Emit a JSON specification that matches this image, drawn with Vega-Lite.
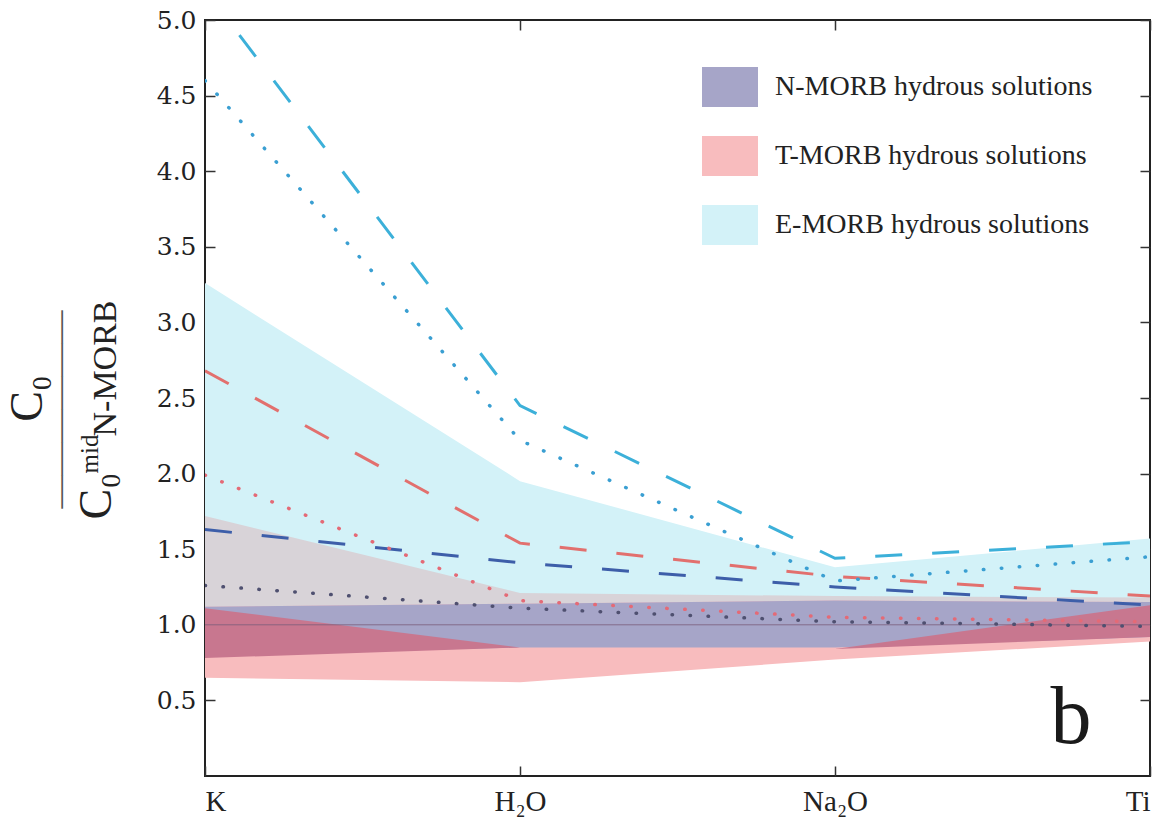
{
  "$schema": "https://vega.github.io/schema/vega-lite/v6.json",
  "autosize": {"type": "none"},
  "padding": {"left": 205, "top": 20, "right": 22, "bottom": 50},
  "width": 945,
  "height": 756,
  "background": "white",
  "config": {
    "view": {"stroke": "#222", "strokeWidth": 2},
    "axis": {"grid": false, "domain": false}
  },
  "datasets": {
    "bands": [
      {"band": "E-MORB hydrous solutions", "element": "K", "lo": 1.2, "hi": 3.26},
      {"band": "E-MORB hydrous solutions", "element": "H2O", "lo": 1.2, "hi": 1.95},
      {"band": "E-MORB hydrous solutions", "element": "Na2O", "lo": 1.15, "hi": 1.38},
      {"band": "E-MORB hydrous solutions", "element": "Ti", "lo": 1.15, "hi": 1.57},
      {"band": "overlap grey", "element": "K", "lo": 1.0, "hi": 1.72},
      {"band": "overlap grey", "element": "H2O", "lo": 1.0, "hi": 1.21},
      {"band": "overlap grey", "element": "Na2O", "lo": 1.0, "hi": 1.19},
      {"band": "overlap grey", "element": "Ti", "lo": 1.0, "hi": 1.18},
      {"band": "T-MORB hydrous solutions", "element": "K", "lo": 0.65, "hi": 1.12},
      {"band": "T-MORB hydrous solutions", "element": "H2O", "lo": 0.62, "hi": 1.14},
      {"band": "T-MORB hydrous solutions", "element": "Na2O", "lo": 0.77, "hi": 1.16},
      {"band": "T-MORB hydrous solutions", "element": "Ti", "lo": 0.89, "hi": 1.15},
      {"band": "N-MORB hydrous solutions", "element": "K", "lo": 0.8, "hi": 1.12},
      {"band": "N-MORB hydrous solutions", "element": "H2O", "lo": 0.85, "hi": 1.14},
      {"band": "N-MORB hydrous solutions", "element": "Na2O", "lo": 0.85, "hi": 1.16},
      {"band": "N-MORB hydrous solutions", "element": "Ti", "lo": 0.92, "hi": 1.15},
      {"band": "overlap crimson", "element": "K", "lo": 0.78, "hi": 1.11},
      {"band": "overlap crimson", "element": "H2O", "lo": 0.85, "hi": 0.85},
      {"band": "overlap crimson", "element": "Na2O", "lo": 0.84, "hi": 0.84},
      {"band": "overlap crimson", "element": "Ti", "lo": 0.92, "hi": 1.13}
    ],
    "lines": [
      {"series": "E-MORB dashed", "style": "dashed", "element": "K", "value": 5.2},
      {"series": "E-MORB dashed", "style": "dashed", "element": "H2O", "value": 2.45},
      {"series": "E-MORB dashed", "style": "dashed", "element": "Na2O", "value": 1.44},
      {"series": "E-MORB dashed", "style": "dashed", "element": "Ti", "value": 1.55},
      {"series": "E-MORB dotted", "style": "dotted", "element": "K", "value": 4.6},
      {"series": "E-MORB dotted", "style": "dotted", "element": "H2O", "value": 2.22},
      {"series": "E-MORB dotted", "style": "dotted", "element": "Na2O", "value": 1.29},
      {"series": "E-MORB dotted", "style": "dotted", "element": "Ti", "value": 1.45},
      {"series": "T-MORB dashed", "style": "dashed", "element": "K", "value": 2.68},
      {"series": "T-MORB dashed", "style": "dashed", "element": "H2O", "value": 1.54},
      {"series": "T-MORB dashed", "style": "dashed", "element": "Na2O", "value": 1.32},
      {"series": "T-MORB dashed", "style": "dashed", "element": "Ti", "value": 1.19},
      {"series": "T-MORB dotted", "style": "dotted", "element": "K", "value": 1.99},
      {"series": "T-MORB dotted", "style": "dotted", "element": "H2O", "value": 1.16},
      {"series": "T-MORB dotted", "style": "dotted", "element": "Na2O", "value": 1.05},
      {"series": "T-MORB dotted", "style": "dotted", "element": "Ti", "value": 1.02},
      {"series": "N-MORB dashed", "style": "dashed", "element": "K", "value": 1.63},
      {"series": "N-MORB dashed", "style": "dashed", "element": "H2O", "value": 1.41},
      {"series": "N-MORB dashed", "style": "dashed", "element": "Na2O", "value": 1.25},
      {"series": "N-MORB dashed", "style": "dashed", "element": "Ti", "value": 1.13},
      {"series": "N-MORB dotted", "style": "dotted", "element": "K", "value": 1.26},
      {"series": "N-MORB dotted", "style": "dotted", "element": "H2O", "value": 1.11},
      {"series": "N-MORB dotted", "style": "dotted", "element": "Na2O", "value": 1.02},
      {"series": "N-MORB dotted", "style": "dotted", "element": "Ti", "value": 0.99},
      {"series": "N-MORB mid", "style": "solid", "element": "K", "value": 1.0},
      {"series": "N-MORB mid", "style": "solid", "element": "H2O", "value": 1.0},
      {"series": "N-MORB mid", "style": "solid", "element": "Na2O", "value": 1.0},
      {"series": "N-MORB mid", "style": "solid", "element": "Ti", "value": 1.0}
    ],
    "panel": [
      {"element": "Ti", "value": 0.216, "text": "b"}
    ]
  },
  "resolve": {"axis": {"x": "independent", "y": "independent"}},
  "layer": [
    {
      "data": {"name": "bands"},
      "transform": [{"filter": "datum.band == 'E-MORB hydrous solutions'"}],
      "mark": {"type": "area", "opacity": 1},
      "encoding": {
        "x": {"field": "element", "type": "nominal", "sort": ["K", "H2O", "Na2O", "Ti"],
          "scale": {"type": "point", "padding": 0, "domain": ["K", "H2O", "Na2O", "Ti"]},
          "axis": {"orient": "bottom", "ticks": false, "domain": false, "grid": false, "title": null,
            "labelFont": "Liberation Serif", "labelFontSize": 29, "labelColor": "#222", "labelPadding": 11,
            "labelAngle": 0, "labelFlush": true,
            "labelExpr": "datum.value == 'H2O' ? 'H₂O' : datum.value == 'Na2O' ? 'Na₂O' : datum.value"}},
        "y": {"field": "lo", "type": "quantitative", "scale": {"domain": [0, 5], "nice": false, "zero": false},
          "axis": {"orient": "left", "values": [0.5, 1, 1.5, 2, 2.5, 3, 3.5, 4, 4.5, 5], "format": ".1f",
            "ticks": false, "domain": false, "grid": false, "title": null,
            "labelFont": "DejaVu Serif", "labelFontSize": 25, "labelColor": "#222", "labelPadding": 9}},
        "y2": {"field": "hi"},
        "fill": {"field": "band", "type": "nominal",
          "scale": {"domain": ["N-MORB hydrous solutions", "T-MORB hydrous solutions", "E-MORB hydrous solutions"],
            "range": ["#a6a5c8", "#f8bcbe", "#d3f2f8"]},
          "legend": {"title": null, "orient": "none", "legendX": 505, "legendY": 47,
            "symbolType": "M-1.4,-1H1.4V1H-1.4Z", "symbolSize": 1600, "symbolStrokeWidth": 0, "symbolOpacity": 1,
            "labelFont": "Liberation Serif", "labelFontSize": 28, "labelColor": "#222", "labelOffset": 25,
            "rowPadding": 29, "labelLimit": 400}}
      }
    },
    {
      "data": {"name": "bands"},
      "transform": [{"filter": "datum.band == 'overlap grey'"}],
      "mark": {"type": "area", "opacity": 1, "color": "#d8d3d8"},
      "encoding": {
        "x": {"field": "element", "type": "nominal", "sort": ["K", "H2O", "Na2O", "Ti"],
          "scale": {"type": "point", "padding": 0, "domain": ["K", "H2O", "Na2O", "Ti"]},
          "axis": {"orient": "bottom", "labels": false, "domain": false, "grid": false, "title": null,
            "ticks": true, "tickSize": -10, "tickColor": "#333", "tickWidth": 1.5}},
        "y": {"field": "lo", "type": "quantitative", "scale": {"domain": [0, 5], "nice": false, "zero": false},
          "axis": {"orient": "left", "values": [0.5, 1, 1.5, 2, 2.5, 3, 3.5, 4, 4.5, 5],
            "labels": false, "domain": false, "grid": false, "title": null,
            "ticks": true, "tickSize": -10, "tickColor": "#333", "tickWidth": 1.5}},
        "y2": {"field": "hi"}
      }
    },
    {
      "data": {"name": "bands"},
      "transform": [{"filter": "datum.band == 'T-MORB hydrous solutions'"}],
      "mark": {"type": "area", "opacity": 1},
      "encoding": {
        "x": {"field": "element", "type": "nominal", "sort": ["K", "H2O", "Na2O", "Ti"],
          "scale": {"type": "point", "padding": 0, "domain": ["K", "H2O", "Na2O", "Ti"]},
          "axis": {"orient": "top", "labels": false, "domain": false, "grid": false, "title": null,
            "ticks": true, "tickSize": -10, "tickColor": "#333", "tickWidth": 1.5}},
        "y": {"field": "lo", "type": "quantitative", "scale": {"domain": [0, 5], "nice": false, "zero": false},
          "axis": {"orient": "right", "values": [0.5, 1, 1.5, 2, 2.5, 3, 3.5, 4, 4.5, 5],
            "labels": false, "domain": false, "grid": false, "title": null,
            "ticks": true, "tickSize": -10, "tickColor": "#333", "tickWidth": 1.5}},
        "y2": {"field": "hi"},
        "fill": {"field": "band", "type": "nominal",
          "scale": {"domain": ["N-MORB hydrous solutions", "T-MORB hydrous solutions", "E-MORB hydrous solutions"],
            "range": ["#a6a5c8", "#f8bcbe", "#d3f2f8"]}}
      }
    },
    {
      "data": {"name": "bands"},
      "transform": [{"filter": "datum.band == 'N-MORB hydrous solutions'"}],
      "mark": {"type": "area", "opacity": 1},
      "encoding": {
        "x": {"field": "element", "type": "nominal", "sort": ["K", "H2O", "Na2O", "Ti"],
          "scale": {"type": "point", "padding": 0, "domain": ["K", "H2O", "Na2O", "Ti"]}, "axis": null},
        "y": {"field": "lo", "type": "quantitative", "scale": {"domain": [0, 5], "nice": false, "zero": false},
          "axis": {"orient": "left", "labels": false, "ticks": false, "domain": false, "grid": false,
            "title": "C₀", "titleFont": "Liberation Serif", "titleFontSize": 46, "titleFontWeight": "normal",
            "titleColor": "#222", "titleAngle": -90, "titleAlign": "center", "titleBaseline": "alphabetic",
            "titleX": -164, "titleY": 378}},
        "y2": {"field": "hi"},
        "fill": {"field": "band", "type": "nominal",
          "scale": {"domain": ["N-MORB hydrous solutions", "T-MORB hydrous solutions", "E-MORB hydrous solutions"],
            "range": ["#a6a5c8", "#f8bcbe", "#d3f2f8"]}}
      }
    },
    {
      "data": {"name": "bands"},
      "transform": [{"filter": "datum.band == 'overlap crimson'"}],
      "mark": {"type": "area", "opacity": 1, "color": "#c8778f"},
      "encoding": {
        "x": {"field": "element", "type": "nominal", "sort": ["K", "H2O", "Na2O", "Ti"],
          "scale": {"type": "point", "padding": 0, "domain": ["K", "H2O", "Na2O", "Ti"]}, "axis": null},
        "y": {"field": "lo", "type": "quantitative", "scale": {"domain": [0, 5], "nice": false, "zero": false},
          "axis": {"orient": "left", "labels": false, "ticks": false, "domain": false, "grid": false,
            "title": "——————", "titleFont": "Liberation Serif", "titleFontSize": 33, "titleFontWeight": "normal",
            "titleColor": "#555", "titleAngle": -90, "titleAlign": "center", "titleBaseline": "alphabetic",
            "titleX": -136, "titleY": 389}},
        "y2": {"field": "hi"}
      }
    },
    {
      "data": {"name": "lines"},
      "transform": [{"filter": "datum.style == 'solid'"}],
      "mark": {"type": "line", "stroke": "#7a5c7a", "strokeWidth": 1, "opacity": 0.8},
      "encoding": {
        "x": {"field": "element", "type": "nominal", "sort": ["K", "H2O", "Na2O", "Ti"],
          "scale": {"type": "point", "padding": 0, "domain": ["K", "H2O", "Na2O", "Ti"]}, "axis": null},
        "y": {"field": "value", "type": "quantitative", "scale": {"domain": [0, 5], "nice": false, "zero": false},
          "axis": {"orient": "left", "labels": false, "ticks": false, "domain": false, "grid": false,
            "title": "C₀", "titleFont": "Liberation Serif", "titleFontSize": 46, "titleFontWeight": "normal",
            "titleColor": "#222", "titleAngle": -90, "titleAlign": "left", "titleBaseline": "alphabetic",
            "titleX": -95, "titleY": 499}}
      }
    },
    {
      "data": {"name": "lines"},
      "transform": [{"filter": "datum.style == 'dashed'"}],
      "mark": {"type": "line", "strokeWidth": 3, "strokeDash": [27, 30], "strokeCap": "butt", "clip": true},
      "encoding": {
        "x": {"field": "element", "type": "nominal", "sort": ["K", "H2O", "Na2O", "Ti"],
          "scale": {"type": "point", "padding": 0, "domain": ["K", "H2O", "Na2O", "Ti"]}, "axis": null},
        "y": {"field": "value", "type": "quantitative", "scale": {"domain": [0, 5], "nice": false, "zero": false},
          "axis": {"orient": "left", "labels": false, "ticks": false, "domain": false, "grid": false,
            "title": "mid", "titleFont": "Liberation Serif", "titleFontSize": 25, "titleFontWeight": "normal",
            "titleColor": "#222", "titleAngle": -90, "titleAlign": "left", "titleBaseline": "alphabetic",
            "titleX": -108, "titleY": 453}},
        "stroke": {"field": "series", "type": "nominal", "legend": null,
          "scale": {"domain": ["E-MORB dashed", "E-MORB dotted", "T-MORB dashed", "T-MORB dotted", "N-MORB dashed", "N-MORB dotted"],
            "range": ["#3cb0d9", "#3a9fd2", "#e2706e", "#e46a76", "#3d5ea9", "#4f5070"]}}
      }
    },
    {
      "data": {"name": "lines"},
      "transform": [{"filter": "datum.style == 'dotted'"}],
      "mark": {"type": "line", "strokeWidth": 3.5, "strokeDash": [0.5, 17.5], "strokeCap": "round", "clip": true},
      "encoding": {
        "x": {"field": "element", "type": "nominal", "sort": ["K", "H2O", "Na2O", "Ti"],
          "scale": {"type": "point", "padding": 0, "domain": ["K", "H2O", "Na2O", "Ti"]}, "axis": null},
        "y": {"field": "value", "type": "quantitative", "scale": {"domain": [0, 5], "nice": false, "zero": false},
          "axis": {"orient": "left", "labels": false, "ticks": false, "domain": false, "grid": false,
            "title": "N-MORB", "titleFont": "Liberation Serif", "titleFontSize": 34, "titleFontWeight": "normal",
            "titleColor": "#222", "titleAngle": -90, "titleAlign": "left", "titleBaseline": "alphabetic",
            "titleX": -90, "titleY": 416}},
        "stroke": {"field": "series", "type": "nominal", "legend": null,
          "scale": {"domain": ["E-MORB dashed", "E-MORB dotted", "T-MORB dashed", "T-MORB dotted", "N-MORB dashed", "N-MORB dotted"],
            "range": ["#3cb0d9", "#3a9fd2", "#e2706e", "#e46a76", "#3d5ea9", "#4f5070"]}}
      }
    },
    {
      "data": {"name": "panel"},
      "mark": {"type": "text", "font": "Liberation Serif", "fontSize": 82, "color": "#1a1a1a",
        "align": "center", "baseline": "alphabetic", "dx": -79},
      "encoding": {
        "x": {"field": "element", "type": "nominal", "sort": ["K", "H2O", "Na2O", "Ti"],
          "scale": {"type": "point", "padding": 0, "domain": ["K", "H2O", "Na2O", "Ti"]}, "axis": null},
        "y": {"field": "value", "type": "quantitative", "scale": {"domain": [0, 5], "nice": false, "zero": false}, "axis": null},
        "text": {"field": "text"}
      }
    }
  ]
}
